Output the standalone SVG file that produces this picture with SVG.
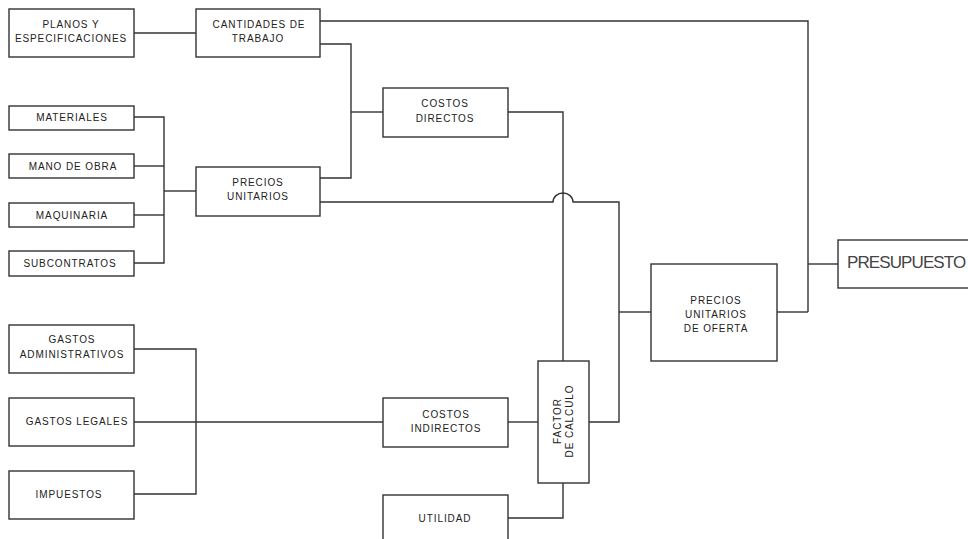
<svg xmlns="http://www.w3.org/2000/svg" width="968" height="539" viewBox="0 0 968 539">
<style>
rect.b{fill:#fff;stroke:#333;stroke-width:1.4}
text{font-family:"Liberation Sans",Arial,sans-serif;font-size:10px;fill:#222;text-anchor:middle;letter-spacing:0.9px}
.c path{fill:none;stroke:#333;stroke-width:1.4}
.big{font-size:17px;text-anchor:start;letter-spacing:-0.9px;fill:#444}
</style>
<rect width="968" height="539" fill="#fff"/>
<g class="c" id="connectors">
<path d="M134 33H196"/>
<path d="M320 21H808V312"/>
<path d="M777 312H808"/>
<path d="M808 264H838"/>
<path d="M320 44H351V178H320"/>
<path d="M351 112H383"/>
<path d="M508 112H563V361"/>
<path d="M134 117H164V263H134"/>
<path d="M134 166H164"/>
<path d="M134 215H164"/>
<path d="M164 191H196"/>
<path d="M320 202H553A10 9 0 0 1 573 202H619V422H589"/>
<path d="M619 312H651"/>
<path d="M134 349H196V494H134"/>
<path d="M134 422H383"/>
<path d="M508 422H538"/>
<path d="M508 518H563V483"/>
</g>
<g id="planos"><rect class="b" x="9" y="9" width="125" height="48"/><text x="71" y="28">PLANOS Y</text><text x="71" y="42">ESPECIFICACIONES</text></g>
<g id="cantidades"><rect class="b" x="196" y="9" width="124" height="48"/><text x="259" y="28">CANTIDADES DE</text><text x="258" y="42">TRABAJO</text></g>
<g id="materiales"><rect class="b" x="9" y="106" width="125" height="24"/><text x="72" y="121">MATERIALES</text></g>
<g id="mano"><rect class="b" x="9" y="154" width="125" height="24"/><text x="73" y="170">MANO DE OBRA</text></g>
<g id="maquinaria"><rect class="b" x="9" y="203" width="125" height="24"/><text x="72" y="219">MAQUINARIA</text></g>
<g id="subcontratos"><rect class="b" x="9" y="251" width="125" height="25"/><text x="70" y="267">SUBCONTRATOS</text></g>
<g id="precios"><rect class="b" x="196" y="167" width="124" height="49"/><text x="258" y="186">PRECIOS</text><text x="258" y="200">UNITARIOS</text></g>
<g id="directos"><rect class="b" x="383" y="88" width="125" height="49"/><text x="445" y="107">COSTOS</text><text x="445" y="122">DIRECTOS</text></g>
<g id="oferta"><rect class="b" x="651" y="264" width="126" height="97"/><text x="716" y="304">PRECIOS</text><text x="716" y="318">UNITARIOS</text><text x="716" y="332">DE OFERTA</text></g>
<g id="presupuesto"><rect class="b" x="838" y="240" width="140" height="48"/><text class="big" x="847" y="268">PRESUPUESTO</text></g>
<g id="admin"><rect class="b" x="9" y="325" width="125" height="48"/><text x="72" y="343">GASTOS</text><text x="72" y="358">ADMINISTRATIVOS</text></g>
<g id="legales"><rect class="b" x="9" y="398" width="125" height="48"/><text x="77" y="425">GASTOS LEGALES</text></g>
<g id="impuestos"><rect class="b" x="9" y="471" width="125" height="48"/><text x="69" y="498">IMPUESTOS</text></g>
<g id="indirectos"><rect class="b" x="383" y="398" width="125" height="49"/><text x="446" y="418">COSTOS</text><text x="446" y="432">INDIRECTOS</text></g>
<g id="factor"><rect class="b" x="538" y="361" width="51" height="122"/><g transform="translate(561 421) rotate(-90)"><text x="0" y="0">FACTOR</text><text x="0" y="11.5">DE CALCULO</text></g></g>
<g id="utilidad"><rect class="b" x="383" y="495" width="125" height="50"/><text x="445" y="522">UTILIDAD</text></g>
</svg>
